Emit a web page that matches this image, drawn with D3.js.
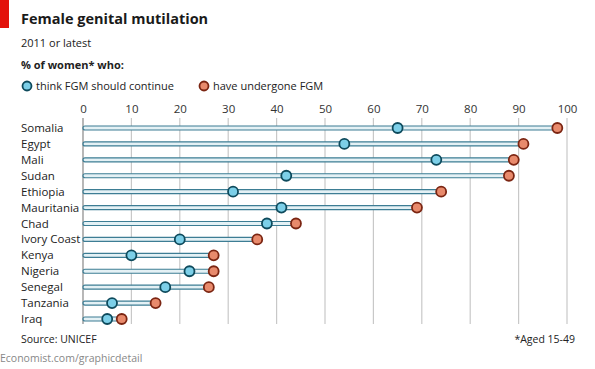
<!DOCTYPE html>
<html>
<head>
<meta charset="utf-8">
<script src="https://cdn.jsdelivr.net/npm/d3@7"></script>
<style>
  body { margin: 0; background: #fff; }
  svg { font-family: "Open Sans", "DejaVu Sans", sans-serif; }
</style>
</head>
<body>
<div id="chart"></div>
<script>
const countries = ['Somalia', 'Egypt', 'Mali', 'Sudan', 'Ethiopia', 'Mauritania', 'Chad',
  'Ivory Coast', 'Kenya', 'Nigeria', 'Senegal', 'Tanzania', 'Iraq'];
const shouldContinue = [65, 54, 73, 42, 31, 41, 38, 20, 10, 22, 17, 6, 5];
const undergone = [98, 91, 89, 88, 74, 69, 44, 36, 27, 27, 26, 15, 8];
const xTicks = [0, 10, 20, 30, 40, 50, 60, 70, 80, 90, 100];

const width = 595, height = 369;
const blueFill = '#7ccfe8', blueStroke = '#0e4a5c';
const redFill = '#e88a6c', redStroke = '#7b2512';

const svg = d3.select('#chart').append('svg')
  .attr('width', width).attr('height', height);

// red tag + headings
svg.append('rect').attr('x', 0).attr('y', 0).attr('width', 9).attr('height', 28).attr('fill', '#e3120b');
svg.append('text').attr('x', 21).attr('y', 24).attr('font-size', 14.5).attr('font-weight', 'bold')
  .attr('fill', '#1a1a1a').text('Female genital mutilation');
svg.append('text').attr('x', 21).attr('y', 47).attr('font-size', 11).attr('fill', '#222')
  .text('2011 or latest');
svg.append('text').attr('x', 21).attr('y', 69).attr('font-size', 11).attr('font-weight', 'bold')
  .attr('fill', '#222').text('% of women* who:');

// legend
const legend = [
  { label: 'think FGM should continue', fill: blueFill, stroke: blueStroke, x: 27 },
  { label: 'have undergone FGM', fill: redFill, stroke: redStroke, x: 204 }
];
legend.forEach(l => {
  svg.append('circle').attr('cx', l.x).attr('cy', 86).attr('r', 4.5)
    .attr('fill', l.fill).attr('stroke', l.stroke).attr('stroke-width', 1.8);
  svg.append('text').attr('x', l.x + 9).attr('y', 90).attr('font-size', 11)
    .attr('fill', '#222').text(l.label);
});

const x = d3.scaleLinear().domain([0, 100]).range([83, 567]);
const y = d3.scalePoint().domain(countries).range([128, 319]);

// grid lines
svg.append('g').selectAll('line').data(xTicks).enter().append('line')
  .attr('x1', d => x(d)).attr('x2', d => x(d))
  .attr('y1', 118).attr('y2', 324)
  .attr('stroke', d => d === 0 ? '#888' : '#c8c8c8').attr('stroke-width', 1.2);

// top axis labels
const axis = svg.append('g').attr('transform', 'translate(0,116)')
  .call(d3.axisTop(x).tickValues(xTicks).tickSize(0).tickPadding(3));
axis.select('.domain').remove();
axis.selectAll('text').attr('font-size', 11.5).attr('fill', '#333')
  .attr('font-family', '"Open Sans", "DejaVu Sans", sans-serif');

// country labels
svg.append('g').selectAll('text').data(countries).enter().append('text')
  .attr('x', 21).attr('y', d => y(d) + 4).attr('font-size', 11.5).attr('fill', '#222')
  .text(d => d);

const rows = countries.map((c, i) => ({ c, a: shouldContinue[i], b: undergone[i] }));

// bars from 0 to undergone value
svg.append('g').selectAll('rect').data(rows).enter().append('rect')
  .attr('x', x(0)).attr('y', d => y(d.c) - 2)
  .attr('width', d => x(d.b) - x(0)).attr('height', 4)
  .attr('rx', 2)
  .attr('fill', '#e4f1f5').attr('stroke', '#3d7d94').attr('stroke-width', 1.2);

svg.append('g').selectAll('circle').data(rows).enter().append('circle')
  .attr('cx', d => x(d.b)).attr('cy', d => y(d.c)).attr('r', 5)
  .attr('fill', redFill).attr('stroke', redStroke).attr('stroke-width', 1.8);

svg.append('g').selectAll('circle').data(rows).enter().append('circle')
  .attr('cx', d => x(d.a)).attr('cy', d => y(d.c)).attr('r', 5)
  .attr('fill', blueFill).attr('stroke', blueStroke).attr('stroke-width', 1.8);

// footer
svg.append('text').attr('x', 21).attr('y', 343).attr('font-size', 10.5).attr('fill', '#222')
  .text('Source: UNICEF');
svg.append('text').attr('x', 575).attr('y', 343).attr('font-size', 10.5).attr('fill', '#222')
  .attr('text-anchor', 'end').text('*Aged 15-49');
svg.append('text').attr('x', 0).attr('y', 362).attr('font-size', 10.5).attr('fill', '#888')
  .text('Economist.com/graphicdetail');
</script>
</body>
</html>
